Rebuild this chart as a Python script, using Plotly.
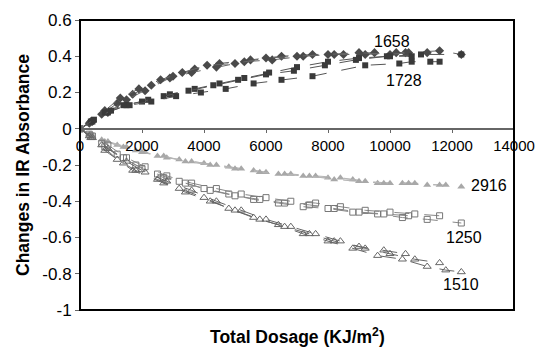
import plotly.graph_objects as go

# ---- data ----
x_1658_a = [0, 300, 700, 1200, 1700, 2300, 3000, 3700, 4500, 5500, 6500, 7500, 8500, 9500, 10500, 11600, 12300]
y_1658_a = [0, 0.03, 0.08, 0.14, 0.19, 0.24, 0.29, 0.33, 0.36, 0.38, 0.40, 0.41, 0.41, 0.42, 0.42, 0.43, 0.41]
x_1658_b = [0, 400, 900, 1500, 2100, 2900, 3600, 4400, 5300, 6200, 7200, 8200, 9200, 10200, 11200]
y_1658_b = [0, 0.04, 0.09, 0.16, 0.21, 0.28, 0.31, 0.34, 0.37, 0.38, 0.40, 0.41, 0.41, 0.42, 0.42]
x_1658_c = [0, 350, 800, 1300, 1900, 2600, 3300, 4100, 5000, 6000, 7000, 8000, 9000, 10000, 10600]
y_1658_c = [0, 0.04, 0.10, 0.17, 0.22, 0.27, 0.31, 0.35, 0.36, 0.39, 0.40, 0.41, 0.42, 0.41, 0.42]

x_1728_a = [0, 400, 900, 1500, 2200, 2900, 3700, 4500, 5300, 6100, 7000, 8000, 9000, 10000, 11000, 12300]
y_1728_a = [0, 0.04, 0.09, 0.13, 0.16, 0.19, 0.22, 0.25, 0.28, 0.31, 0.34, 0.37, 0.39, 0.40, 0.41, 0.41]
x_1728_b = [0, 350, 800, 1400, 2000, 2700, 3500, 4300, 5100, 6000, 6900, 7900, 8900, 9900, 10700]
y_1728_b = [0, 0.04, 0.09, 0.13, 0.15, 0.18, 0.21, 0.24, 0.27, 0.30, 0.32, 0.35, 0.38, 0.40, 0.40]
x_1728_c = [0, 450, 1000, 1600, 2300, 3100, 3900, 4700, 5600, 6500, 7500, 9200, 10300, 10700, 11300, 11600]
y_1728_c = [0, 0.05, 0.10, 0.13, 0.15, 0.18, 0.20, 0.22, 0.25, 0.27, 0.29, 0.35, 0.36, 0.37, 0.37, 0.37]

x_2916_a = [0, 300, 700, 1200, 1800, 2500, 3200, 4000, 4800, 5600, 6400, 7200, 8000, 8800, 9600, 10400, 11200, 11800, 12300]
y_2916_a = [0, -0.03, -0.06, -0.09, -0.12, -0.15, -0.17, -0.19, -0.21, -0.23, -0.25, -0.26, -0.27, -0.28, -0.30, -0.30, -0.31, -0.31, -0.32]
x_2916_b = [0, 400, 900, 1500, 2100, 2800, 3600, 4400, 5200, 6000, 6800, 7600, 8400, 9200, 10000, 10800, 11600]
y_2916_b = [0, -0.04, -0.07, -0.10, -0.13, -0.16, -0.18, -0.20, -0.22, -0.24, -0.25, -0.26, -0.27, -0.29, -0.30, -0.30, -0.31]
x_2916_c = [0, 350, 800, 1400, 2000, 2700, 3400, 4200, 5000, 5800, 6600, 7400, 8200, 9000, 9800, 10600]
y_2916_c = [0, -0.03, -0.07, -0.10, -0.13, -0.15, -0.18, -0.20, -0.22, -0.24, -0.25, -0.26, -0.28, -0.29, -0.30, -0.30]

x_1250_a = [0, 300, 700, 1200, 1800, 2500, 3200, 4000, 4800, 5600, 6400, 7200, 8000, 8800, 9600, 10400, 11200, 12300]
y_1250_a = [0, -0.03, -0.08, -0.14, -0.20, -0.25, -0.29, -0.33, -0.36, -0.39, -0.41, -0.43, -0.44, -0.46, -0.47, -0.49, -0.50, -0.52]
x_1250_b = [0, 400, 900, 1500, 2100, 2800, 3600, 4400, 5200, 6000, 6800, 7600, 8400, 9200, 10000, 10800, 11600]
y_1250_b = [0, -0.04, -0.09, -0.16, -0.21, -0.26, -0.30, -0.33, -0.36, -0.38, -0.40, -0.41, -0.43, -0.45, -0.46, -0.47, -0.48]
x_1250_c = [0, 350, 800, 1400, 2000, 2700, 3400, 4200, 5000, 5800, 6600, 7400, 8200, 9000, 9800, 10600]
y_1250_c = [0, -0.04, -0.10, -0.16, -0.22, -0.27, -0.30, -0.34, -0.37, -0.39, -0.41, -0.42, -0.44, -0.46, -0.47, -0.48]

x_1510_a = [0, 300, 700, 1200, 1800, 2500, 3200, 4000, 4800, 5600, 6400, 7200, 8000, 8800, 9600, 10400, 11200, 11800, 12300]
y_1510_a = [0, -0.04, -0.09, -0.17, -0.23, -0.28, -0.33, -0.38, -0.44, -0.49, -0.53, -0.58, -0.62, -0.66, -0.70, -0.72, -0.76, -0.78, -0.79]
x_1510_b = [0, 400, 900, 1500, 2100, 2800, 3600, 4400, 5200, 6000, 6800, 7600, 8400, 9200, 10000, 10800, 11600]
y_1510_b = [0, -0.05, -0.11, -0.18, -0.24, -0.29, -0.34, -0.40, -0.45, -0.50, -0.54, -0.58, -0.62, -0.66, -0.69, -0.72, -0.74]
x_1510_c = [0, 350, 800, 1400, 1700, 2700, 3400, 4200, 5000, 5800, 6600, 7400, 8200, 9000, 9800, 10500]
y_1510_c = [0, -0.05, -0.12, -0.19, -0.23, -0.30, -0.35, -0.40, -0.45, -0.50, -0.54, -0.58, -0.62, -0.65, -0.67, -0.69]

band_labels = ["1658", "1728", "2916", "1250", "1510"]
label_x = [10050, 10450, 13200, 12400, 12300]
label_y = [0.48, 0.265, -0.315, -0.60, -0.86]

x_ticks = [0, 2000, 4000, 6000, 8000, 10000, 12000, 14000]
x_tick_text = ["0", "2000", "4000", "6000", "8000", "10000", "12000", "14000"]
y_ticks = [0.6, 0.4, 0.2, 0, -0.2, -0.4, -0.6, -0.8, -1]
y_tick_text = ["0.6", "0.4", "0.2", "0", "-0.2", "-0.4", "-0.6", "-0.8", "-1"]

series = [
    (x_1658_a, y_1658_a, "1658"), (x_1658_b, y_1658_b, "1658"), (x_1658_c, y_1658_c, "1658"),
    (x_1728_a, y_1728_a, "1728"), (x_1728_b, y_1728_b, "1728"), (x_1728_c, y_1728_c, "1728"),
    (x_2916_a, y_2916_a, "2916"), (x_2916_b, y_2916_b, "2916"), (x_2916_c, y_2916_c, "2916"),
    (x_1250_a, y_1250_a, "1250"), (x_1250_b, y_1250_b, "1250"), (x_1250_c, y_1250_c, "1250"),
    (x_1510_a, y_1510_a, "1510"), (x_1510_b, y_1510_b, "1510"), (x_1510_c, y_1510_c, "1510"),
]

styles = {
    "1658": dict(symbol="diamond", size=7, color="#4a4a4a", line=dict(width=0)),
    "1728": dict(symbol="square", size=6, color="#3a3a3a", line=dict(width=0)),
    "2916": dict(symbol="triangle-up", size=7, color="#a8a8a8", line=dict(width=0)),
    "1250": dict(symbol="square-open", size=6, color="#777777", line=dict(width=1)),
    "1510": dict(symbol="triangle-up-open", size=7, color="#666666", line=dict(width=1)),
}
line_cols = {"1658": "#666666", "1728": "#555555", "2916": "#b5b5b5", "1250": "#888888", "1510": "#666666"}

FONT = "Liberation Sans, Arial, sans-serif"

fig = go.Figure()
for xs, ys, band in series:
    fig.add_trace(go.Scatter(
        x=xs, y=ys, mode="lines+markers",
        line=dict(color=line_cols[band], width=1, dash="longdash"),
        marker=styles[band], showlegend=False, hoverinfo="skip",
    ))

for lab, lx, ly in zip(band_labels, label_x, label_y):
    fig.add_annotation(x=lx, y=ly, text=lab, showarrow=False,
                       font=dict(family=FONT, size=16, color="black"))

fig.add_annotation(x=0.5, y=-0.045, xref="paper", yref="paper", yanchor="top",
                   text="<b>Total Dosage (KJ/m<sup>2</sup>)</b>", showarrow=False,
                   font=dict(family=FONT, size=17.5, color="black"))

# frame box
fig.add_shape(type="rect", xref="paper", yref="paper", x0=0, x1=1, y0=0, y1=1,
              line=dict(color="black", width=2), fillcolor="rgba(0,0,0,0)")

fig.update_layout(
    width=546, height=347,
    margin=dict(l=80, r=22, t=11, b=37),
    paper_bgcolor="white", plot_bgcolor="white",
    font=dict(family=FONT, size=15, color="black"),
    xaxis=dict(range=[0, 14000], tickvals=x_ticks, ticktext=x_tick_text,
               showgrid=False, zeroline=False,
               showline=True, linecolor="#666666", linewidth=2,
               anchor="free", position=0.625,
               ticks="outside", ticklen=3, tickcolor="#666666",
               tickfont=dict(size=15)),
    yaxis=dict(range=[-1, 0.6], tickvals=y_ticks, ticktext=y_tick_text,
               showgrid=False, zeroline=False, showline=False,
               ticks="outside", ticklen=4, tickcolor="#666666",
               tickfont=dict(size=17),
               title=dict(text="<b>Changes in IR Absorbance</b>", font=dict(size=17.5), standoff=8)),
)

fig.write_html("out.html")
